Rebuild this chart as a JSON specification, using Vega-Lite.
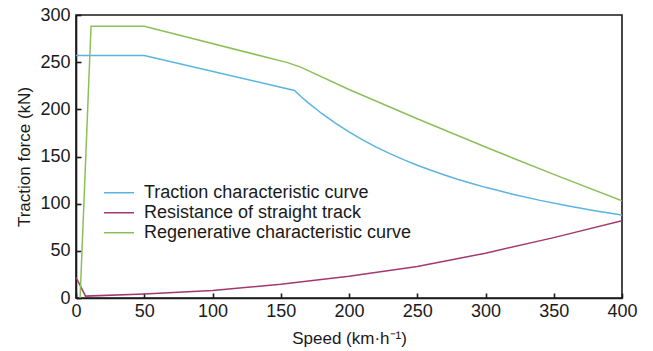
{
  "$schema": "https://vega.github.io/schema/vega-lite/v6.json",
  "width": 546,
  "height": 283,
  "autosize": "none",
  "padding": {"left": 76, "top": 15, "right": 31, "bottom": 53},
  "background": "white",
  "config": {
    "font": "Liberation Sans",
    "view": {"stroke": "#1a1a1a", "strokeWidth": 1.6},
    "axis": {
      "domainColor": "#1a1a1a",
      "domainWidth": 1.6,
      "tickColor": "#1a1a1a",
      "tickWidth": 1.6,
      "tickSize": -5,
      "zindex": 1,
      "grid": false,
      "labelFlush": false,
      "labelOverlap": false,
      "labelFont": "Liberation Sans",
      "labelFontSize": 18,
      "labelColor": "#1a1a1a",
      "titleFont": "Liberation Sans",
      "titleFontSize": 17,
      "titleFontWeight": "normal",
      "titleColor": "#1a1a1a"
    }
  },
  "data": {
    "values": [
      {"speed": 0, "force": 257, "series": "Traction characteristic curve"},
      {"speed": 50, "force": 257, "series": "Traction characteristic curve"},
      {"speed": 160, "force": 220, "series": "Traction characteristic curve"},
      {"speed": 165, "force": 213.3, "series": "Traction characteristic curve"},
      {"speed": 170, "force": 207.1, "series": "Traction characteristic curve"},
      {"speed": 180, "force": 195.6, "series": "Traction characteristic curve"},
      {"speed": 190, "force": 185.3, "series": "Traction characteristic curve"},
      {"speed": 200, "force": 176, "series": "Traction characteristic curve"},
      {"speed": 210, "force": 167.6, "series": "Traction characteristic curve"},
      {"speed": 220, "force": 160, "series": "Traction characteristic curve"},
      {"speed": 230, "force": 153, "series": "Traction characteristic curve"},
      {"speed": 240, "force": 146.7, "series": "Traction characteristic curve"},
      {"speed": 250, "force": 140.8, "series": "Traction characteristic curve"},
      {"speed": 260, "force": 135.4, "series": "Traction characteristic curve"},
      {"speed": 270, "force": 130.4, "series": "Traction characteristic curve"},
      {"speed": 280, "force": 125.7, "series": "Traction characteristic curve"},
      {"speed": 290, "force": 121.4, "series": "Traction characteristic curve"},
      {"speed": 300, "force": 117.3, "series": "Traction characteristic curve"},
      {"speed": 320, "force": 110, "series": "Traction characteristic curve"},
      {"speed": 340, "force": 103.5, "series": "Traction characteristic curve"},
      {"speed": 360, "force": 97.8, "series": "Traction characteristic curve"},
      {"speed": 380, "force": 92.6, "series": "Traction characteristic curve"},
      {"speed": 400, "force": 88, "series": "Traction characteristic curve"},
      {"speed": 0, "force": 22, "series": "Resistance of straight track"},
      {"speed": 7, "force": 2, "series": "Resistance of straight track"},
      {"speed": 50, "force": 4.2, "series": "Resistance of straight track"},
      {"speed": 100, "force": 8, "series": "Resistance of straight track"},
      {"speed": 150, "force": 14.5, "series": "Resistance of straight track"},
      {"speed": 200, "force": 23, "series": "Resistance of straight track"},
      {"speed": 250, "force": 33.5, "series": "Resistance of straight track"},
      {"speed": 300, "force": 47.5, "series": "Resistance of straight track"},
      {"speed": 350, "force": 64, "series": "Resistance of straight track"},
      {"speed": 400, "force": 82, "series": "Resistance of straight track"},
      {"speed": 3, "force": 0, "series": "Regenerative characteristic curve"},
      {"speed": 11, "force": 288, "series": "Regenerative characteristic curve"},
      {"speed": 50, "force": 288, "series": "Regenerative characteristic curve"},
      {"speed": 155, "force": 249.5, "series": "Regenerative characteristic curve"},
      {"speed": 165, "force": 244.5, "series": "Regenerative characteristic curve"},
      {"speed": 200, "force": 221, "series": "Regenerative characteristic curve"},
      {"speed": 250, "force": 190, "series": "Regenerative characteristic curve"},
      {"speed": 300, "force": 160, "series": "Regenerative characteristic curve"},
      {"speed": 350, "force": 131, "series": "Regenerative characteristic curve"},
      {"speed": 400, "force": 103, "series": "Regenerative characteristic curve"}
    ]
  },
  "mark": {"type": "line", "strokeWidth": 1.5, "clip": true},
  "encoding": {
    "x": {
      "field": "speed",
      "type": "quantitative",
      "scale": {"domain": [0, 400], "nice": false},
      "axis": {"values": [0, 50, 100, 150, 200, 250, 300, 350, 400], "labelPadding": 9, "title": "Speed (km·h⁻¹)", "titlePadding": 10}
    },
    "y": {
      "field": "force",
      "type": "quantitative",
      "scale": {"domain": [0, 300], "nice": false},
      "axis": {"values": [0, 50, 100, 150, 200, 250, 300], "labelPadding": 11, "title": "Traction force (kN)", "titlePadding": 6}
    },
    "color": {
      "field": "series",
      "type": "nominal",
      "scale": {
        "domain": ["Traction characteristic curve", "Resistance of straight track", "Regenerative characteristic curve"],
        "range": ["#5ab4df", "#a3386f", "#8cbf5a"]
      },
      "legend": {
        "title": null,
        "orient": "none",
        "legendX": 27,
        "legendY": 168,
        "padding": 0,
        "symbolType": "stroke",
        "symbolSize": 900,
        "symbolStrokeWidth": 1.5,
        "clipHeight": 19.5,
        "labelFont": "Liberation Sans",
        "labelFontSize": 18,
        "labelColor": "#1a1a1a",
        "labelOffset": 9,
        "rowPadding": 0,
        "labelLimit": 400
      }
    }
  }
}
